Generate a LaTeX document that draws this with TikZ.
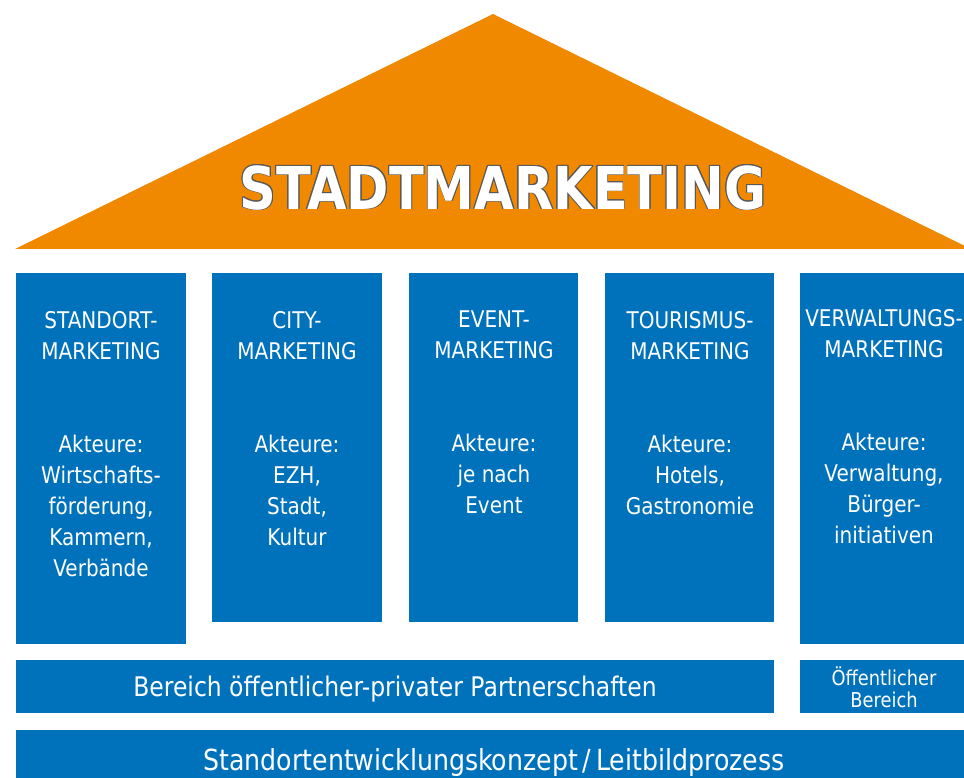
\documentclass[tikz,border=0pt]{standalone}
\usepackage{fontspec}
\setmainfont{DejaVu Sans}[FakeStretch=0.87]
\newfontfamily\titlefont{DejaVu Sans}[FakeStretch=0.865]
\usepackage{contour}
\contourlength{0.9pt}
\definecolor{smblue}{RGB}{0,114,188}
\definecolor{smorange}{RGB}{240,136,0}
\tikzset{
  pillar/.style={fill=smblue, inner sep=0pt},
  pillartext/.style={text=white, align=center, inner sep=0pt, anchor=north,
    font=\fontsize{23}{31}\selectfont},
  bartext/.style={text=white, align=center, inner sep=0pt}
}

\begin{document}
\begin{tikzpicture}[x=1pt, y=-1pt]
        \useasboundingbox (0,0) rectangle (964,778);
        % roof
        \fill[smorange] (15,249) -- (493,14) -- (971,249) -- cycle;
        \node[inner sep=0pt] (title) at (503,188)
          {\titlefont\bfseries\fontsize{59}{59}\selectfont\color{white}\contour{black!65}{STADTMARKETING}};
        % pillars
        \node[pillar, minimum width=170, minimum height=371] (standort) at (101,458.5) {};
        \node[pillar, minimum width=170, minimum height=349] (city) at (297,447.5) {};
        \node[pillar, minimum width=169, minimum height=349] (event) at (493.5,447.5) {};
        \node[pillar, minimum width=169, minimum height=349] (tourismus) at (689.5,447.5) {};
        \node[pillar, minimum width=170, minimum height=371] (verwaltung) at (885,458.5) {};
        \node[pillartext] (standorttext) at (101,311)
          {STANDORT-\\MARKETING\\[62pt]Akteure:\\Wirtschafts-\\förderung,\\Kammern,\\Verbände};
        \node[pillartext] (citytext) at (297,311)
          {CITY-\\MARKETING\\[62pt]Akteure:\\EZH,\\Stadt,\\Kultur};
        \node[pillartext] (eventtext) at (494,311)
          {EVENT-\\MARKETING\\[62pt]Akteure:\\je nach\\Event};
        \node[pillartext] (tourismustext) at (690,311)
          {TOURISMUS-\\MARKETING\\[62pt]Akteure:\\Hotels,\\Gastronomie};
        \node[pillartext] (verwaltungtext) at (884,309)
          {VERWALTUNGS-\\MARKETING\\[62pt]Akteure:\\Verwaltung,\\Bürger-\\initiativen};
        % foundation
        \node[pillar, minimum width=758, minimum height=53] (ppp) at (395,686.5) {};
        \node[pillar, minimum width=170, minimum height=53] (oeffentlich) at (885,686.5) {};
        \node[pillar, minimum width=954, minimum height=60] (konzept) at (493,760) {};
        \node[bartext, font=\fontsize{27}{30}\selectfont] (ppptext) at (395,689)
          {Bereich öffentlicher-privater Partnerschaften};
        \node[bartext, font=\fontsize{20.5}{22}\selectfont] (oeffentlichtext) at (884,687)
          {Öffentlicher\\Bereich};
        \node[bartext, font=\fontsize{29}{32}\selectfont] (konzepttext) at (494,762)
          {Standortentwicklungskonzept\,/\,Leitbildprozess};
    \end{tikzpicture}
\end{document}
